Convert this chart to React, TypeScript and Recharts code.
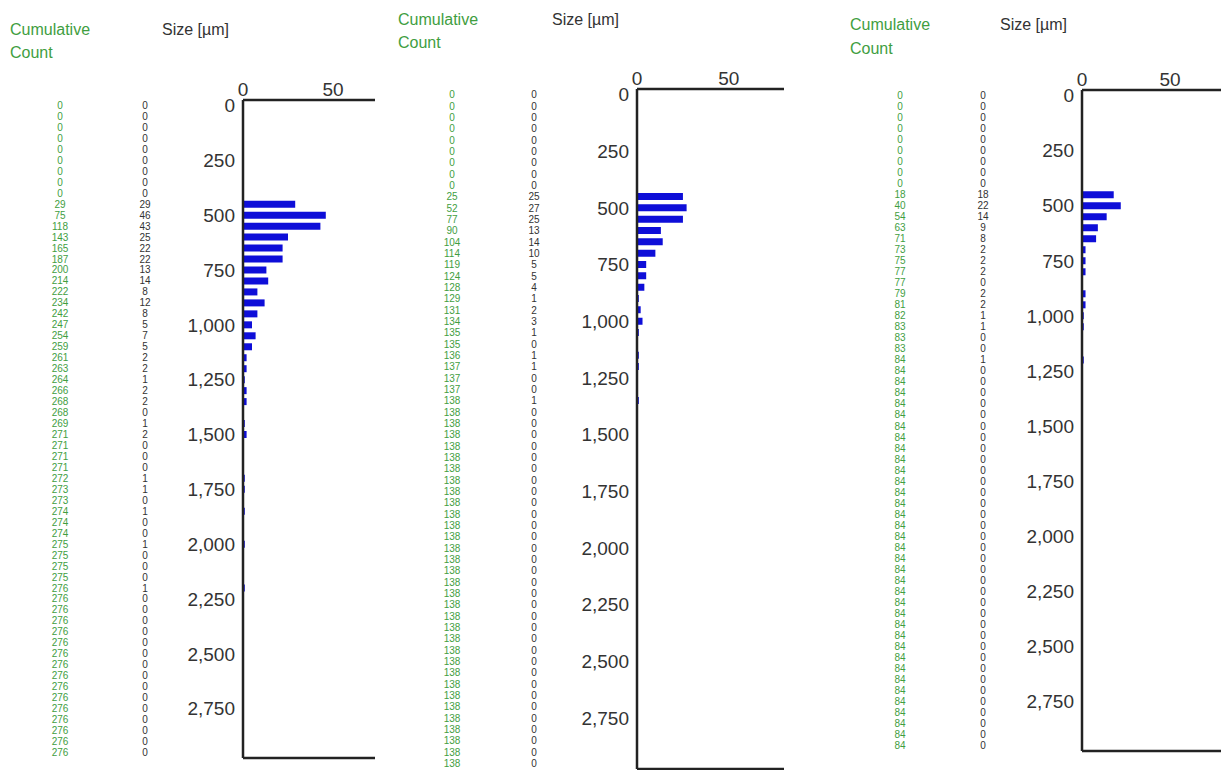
import { BarChart, Bar, XAxis, YAxis, ReferenceLine } from 'recharts';

// bin centres in µm (50 µm bins)
const sizeBins = [
    0, 50, 100, 150, 200, 250, 300, 350, 400, 450,
    500, 550, 600, 650, 700, 750, 800, 850, 900, 950,
    1000, 1050, 1100, 1150, 1200, 1250, 1300, 1350, 1400, 1450,
    1500, 1550, 1600, 1650, 1700, 1750, 1800, 1850, 1900, 1950,
    2000, 2050, 2100, 2150, 2200, 2250, 2300, 2350, 2400, 2450,
    2500, 2550, 2600, 2650, 2700, 2750, 2800, 2850, 2900, 2950,
];

const sizeTicks = [0, 250, 500, 750, 1000, 1250, 1500, 1750, 2000, 2250, 2500, 2750];
const countTicks = [0, 50];

const countsA = [
    0, 0, 0, 0, 0, 0, 0, 0, 0, 29,
    46, 43, 25, 22, 22, 13, 14, 8, 12, 8,
    5, 7, 5, 2, 2, 1, 2, 2, 0, 1,
    2, 0, 0, 0, 1, 1, 0, 1, 0, 0,
    1, 0, 0, 0, 1, 0, 0, 0, 0, 0,
    0, 0, 0, 0, 0, 0, 0, 0, 0, 0,
];
const cumA = [
    0, 0, 0, 0, 0, 0, 0, 0, 0, 29,
    75, 118, 143, 165, 187, 200, 214, 222, 234, 242,
    247, 254, 259, 261, 263, 264, 266, 268, 268, 269,
    271, 271, 271, 271, 272, 273, 273, 274, 274, 274,
    275, 275, 275, 275, 276, 276, 276, 276, 276, 276,
    276, 276, 276, 276, 276, 276, 276, 276, 276, 276,
];

const countsB = [
    0, 0, 0, 0, 0, 0, 0, 0, 0, 25,
    27, 25, 13, 14, 10, 5, 5, 4, 1, 2,
    3, 1, 0, 1, 1, 0, 0, 1, 0, 0,
    0, 0, 0, 0, 0, 0, 0, 0, 0, 0,
    0, 0, 0, 0, 0, 0, 0, 0, 0, 0,
    0, 0, 0, 0, 0, 0, 0, 0, 0, 0,
];
const cumB = [
    0, 0, 0, 0, 0, 0, 0, 0, 0, 25,
    52, 77, 90, 104, 114, 119, 124, 128, 129, 131,
    134, 135, 135, 136, 137, 137, 137, 138, 138, 138,
    138, 138, 138, 138, 138, 138, 138, 138, 138, 138,
    138, 138, 138, 138, 138, 138, 138, 138, 138, 138,
    138, 138, 138, 138, 138, 138, 138, 138, 138, 138,
];

const countsC = [
    0, 0, 0, 0, 0, 0, 0, 0, 0, 18,
    22, 14, 9, 8, 2, 2, 2, 0, 2, 2,
    1, 1, 0, 0, 1, 0, 0, 0, 0, 0,
    0, 0, 0, 0, 0, 0, 0, 0, 0, 0,
    0, 0, 0, 0, 0, 0, 0, 0, 0, 0,
    0, 0, 0, 0, 0, 0, 0, 0, 0, 0,
];
const cumC = [
    0, 0, 0, 0, 0, 0, 0, 0, 0, 18,
    40, 54, 63, 71, 73, 75, 77, 77, 79, 81,
    82, 83, 83, 83, 84, 84, 84, 84, 84, 84,
    84, 84, 84, 84, 84, 84, 84, 84, 84, 84,
    84, 84, 84, 84, 84, 84, 84, 84, 84, 84,
    84, 84, 84, 84, 84, 84, 84, 84, 84, 84,
];

const FONT = '"Liberation Sans", Arial, sans-serif';
const GREEN = '#3f9e3f';
const DARK = '#333';
const BLUE = '#0e0ed8';

// tick renderer for the two text columns: looks the bin up and prints its value
const columnTick = (values: number[], colX: number, color: string) => (props: any) => {
    const idx = sizeBins.indexOf(Number(props.payload?.value));
    if (idx < 0) return <g />;
    return (
        <text x={colX} y={props.y} dy="0.35em" textAnchor="middle" fontSize={10} fill={color} fontFamily={FONT}>
            {values[idx]}
        </text>
    );
};

const panels = [
    { left: 0, clip: 375, plotLeft: 243, plotTop: 100, plotBottom: 758, plotWidth: 144, cumX: 60, cntX: 145, headTop: 20, headCountTop: 43, headX: 10, sizeX: 162, counts: countsA, cum: cumA },
    { left: 375, clip: 412, plotLeft: 262, plotTop: 89, plotBottom: 769, plotWidth: 147, cumX: 77, cntX: 159, headTop: 10, headCountTop: 33, headX: 23, sizeX: 177, counts: countsB, cum: cumB },
    { left: 820, clip: 401, plotLeft: 262, plotTop: 90, plotBottom: 751, plotWidth: 141, cumX: 80, cntX: 163, headTop: 15, headCountTop: 39, headX: 30, sizeX: 180, counts: countsC, cum: cumC },
];

function Panel({ p }: { p: (typeof panels)[number] }) {
    const data = sizeBins.map((s, i) => ({ size: s, count: p.counts[i], cum: p.cum[i] }));
    const yAxisWidth = 70;
    const colAxisWidth = 1;
    const xAxisHeight = 30;
    const domain: [number, number] = [-25, 2975];
    return (
        <div style={{ position: 'absolute', left: p.left, top: 0, width: p.clip, height: 770, overflow: 'hidden' }}>
            <div style={{ position: 'absolute', left: p.headX, top: p.headTop, color: GREEN, fontSize: 16, lineHeight: '20px' }}>Cumulative</div>
            <div style={{ position: 'absolute', left: p.headX, top: p.headCountTop, color: GREEN, fontSize: 16, lineHeight: '20px' }}>Count</div>
            <div style={{ position: 'absolute', left: p.sizeX, top: p.headTop, color: DARK, fontSize: 16, lineHeight: '20px' }}>Size [µm]</div>
            <BarChart
                width={p.plotLeft + p.plotWidth}
                height={p.plotBottom + 2}
                data={data}
                layout="vertical"
                margin={{ top: p.plotTop - xAxisHeight, right: 0, bottom: 2, left: p.plotLeft - yAxisWidth - 2 * colAxisWidth }}
                style={{ position: 'absolute', left: 0, top: 0 }}
            >
                <XAxis
                    type="number"
                    orientation="top"
                    domain={[0, 80]}
                    ticks={countTicks}
                    height={xAxisHeight}
                    tickLine={false}
                    tickSize={2}
                    tickMargin={2}
                    axisLine={{ stroke: '#222', strokeWidth: 2.5 }}
                    tick={{ fontSize: 19, fill: DARK, fontFamily: FONT }}
                />
                <YAxis
                    type="number"
                    dataKey="size"
                    domain={domain}
                    ticks={sizeTicks}
                    width={yAxisWidth}
                    tickLine={false}
                    interval={0}
                    axisLine={{ stroke: '#222', strokeWidth: 2.5 }}
                    tick={{ fontSize: 19, fill: DARK, fontFamily: FONT }}
                    tickFormatter={(v: number) => v.toLocaleString('en-US')}
                    allowDataOverflow
                />
                <YAxis
                    yAxisId="cnt"
                    type="number"
                    dataKey="size"
                    domain={domain}
                    ticks={sizeBins}
                    interval={0}
                    width={colAxisWidth}
                    axisLine={false}
                    tickLine={false}
                    tick={columnTick(p.counts, p.cntX, DARK)}
                    allowDataOverflow
                />
                <YAxis
                    yAxisId="cum"
                    type="number"
                    dataKey="size"
                    domain={domain}
                    ticks={sizeBins}
                    interval={0}
                    width={colAxisWidth}
                    axisLine={false}
                    tickLine={false}
                    tick={columnTick(p.cum, p.cumX, GREEN)}
                    allowDataOverflow
                />
                <ReferenceLine y={2975} stroke="#222" strokeWidth={2.5} />
                <Bar dataKey="count" fill={BLUE} barSize={7} isAnimationActive={false} />
            </BarChart>
        </div>
    );
}

export default function App() {
    return (
        <div style={{ position: 'absolute', left: 0, top: 0, width: 1221, height: 770, background: '#fff', overflow: 'hidden', fontFamily: FONT }}>
            {panels.map((p, i) => (
                <Panel key={i} p={p} />
            ))}
        </div>
    );
}
